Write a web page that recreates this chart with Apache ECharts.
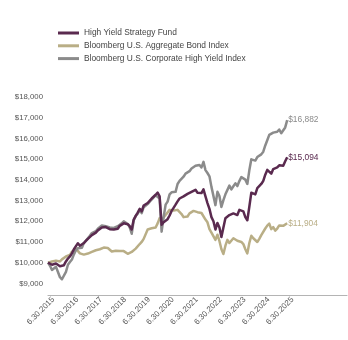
<!DOCTYPE html>
<html>
<head>
<meta charset="utf-8">
<script src="https://cdn.jsdelivr.net/npm/echarts@6/dist/echarts.min.js"></script>
<style>
  html, body { margin: 0; padding: 0; background: #fff; }
  #chart { width: 348px; height: 340px; }
</style>
</head>
<body>
<div id="chart"></div>
<script>
// Growth of a $10,000 investment, month-end values from 6/30/2015 to 6/30/2025
const seriesNames = [
  'High Yield Strategy Fund',
  'Bloomberg U.S. Aggregate Bond Index',
  'Bloomberg U.S. Corporate High Yield Index'
];

const tickLabels = [
  '6.30.2015', '6.30.2016', '6.30.2017', '6.30.2018', '6.30.2019', '6.30.2020',
  '6.30.2021', '6.30.2022', '6.30.2023', '6.30.2024', '6.30.2025'
];

const yTickValues = [9000, 10000, 11000, 12000, 13000, 14000, 15000, 16000, 17000, 18000];

const fundValues = [
  10000, 9950, 9900, 9930, 9960, 9900, 9830, 9800, 9880, 10060, 10200, 10300,
  10450, 10650, 10800, 10940, 10820, 10800, 10950, 11050, 11150, 11230, 11330, 11380,
  11450, 11560, 11620, 11700, 11760, 11720, 11740, 11620, 11560, 11600, 11580, 11640,
  11780, 11850, 11900, 11980, 11860, 11760, 11600, 12080, 12260, 12420, 12600, 12480,
  12760, 12820, 12880, 12960, 13100, 13150, 13280, 13380, 13200, 11830, 11950, 12020,
  12100, 12280, 12500, 12650, 12800, 12960, 13100, 13080, 13200, 13180, 13320, 13360,
  13420, 13480, 13520, 13380, 13460, 13360, 13540, 13200, 12880, 12600, 12200, 12000,
  11600, 11920, 11700, 11240, 11700, 12150, 12080, 12300, 12250, 12380, 12420, 12300,
  12550, 12600, 12480, 12200, 12050, 12700, 13380, 13420, 13300, 13600, 13680, 13800,
  13950, 14250, 14480, 14420, 14300, 14520, 14450, 14600, 14700, 14620, 14680, 14900,
  15094
];

const aggValues = [
  10000, 10070, 10060, 10130, 10100, 10080, 10060, 10160, 10220, 10300, 10360, 10380,
  10530, 10620, 10680, 10650, 10450, 10370, 10390, 10420, 10440, 10480, 10520, 10540,
  10600, 10580, 10650, 10720, 10730, 10700, 10710, 10650, 10540, 10560, 10580, 10550,
  10560, 10570, 10560, 10540, 10430, 10410, 10520, 10600, 10680, 10760, 10900, 11000,
  11150, 11200, 11600, 11620, 11660, 11680, 11700, 11900, 12150, 12050, 12180, 12300,
  12380, 12550, 12500, 12520, 12480, 12550, 12470, 12350, 12200, 12150, 12230, 12380,
  12470, 12500, 12420, 12440, 12420, 12400, 12350, 12080, 11950, 11620, 11450, 11400,
  11100, 11350, 11050, 10650, 10420, 10820, 11100, 10950, 11000, 11180, 11120, 11060,
  11050, 11000, 10900, 10650, 10450, 10950, 11300, 11180, 11250, 11000, 11150, 11330,
  11400, 11650, 11790, 11890, 11620, 11720, 11550, 11650, 11800, 11820, 11780, 11850,
  11904
];

const hyValues = [
  10000, 9850, 9650, 9720, 9800, 9550, 9300, 9200, 9220, 9560, 9900, 10030,
  10150, 10400, 10600, 10700, 10760, 10720, 10950, 11020, 11180, 11300, 11430, 11420,
  11520, 11640, 11680, 11800, 11780, 11760, 11810, 11700, 11650, 11680, 11740, 11760,
  11800, 11900, 12000, 12060, 11870, 11700, 11400, 12050, 12250, 12370, 12540, 12390,
  12680, 12760, 12830, 12900, 13050, 13150, 13250, 13280, 13100, 11500, 12200, 12800,
  12950, 13300, 13400, 13350, 13420, 13800, 13950, 14020, 14150, 14300, 14380, 14420,
  14550, 14580, 14680, 14590, 14720, 14600, 14870, 14470, 14330, 14170, 13660, 13690,
  12780, 13420, 13220, 12690, 13020, 13300, 13220, 13720, 13540, 13690, 13830, 13700,
  13940, 14130, 14180, 14010, 13800, 14460, 14990, 14990, 14930, 15100, 15090, 15230,
  15360, 15660, 15910, 16170, 16100, 16280, 16220, 16320, 16430, 16250, 16250, 16530,
  16882
];

const colors = ['#5a2a4f', '#b9ae86', '#8b8b8b'];
const font = "'Liberation Sans', Arial, sans-serif";

// pair each month index (0 = 6/30/2015) with its value
const toPairs = vals => vals.map((v, i) => [i, v]);
const money = v => '$' + v.toLocaleString('en-US');

const chart = echarts.init(document.getElementById('chart'), null, { renderer: 'canvas' });

const makeSeries = (name, vals, color, z) => ({
  name: name,
  type: 'line',
  data: toPairs(vals),
  showSymbol: false,
  symbol: 'none',
  z: z,
  lineStyle: { color: color, width: 2.5, join: 'round' },
  itemStyle: { color: color },
  emphasis: { disabled: true },
  endLabel: {
    show: true,
    distance: 1,
    color: color,
    fontFamily: font,
    fontSize: 8.4,
    formatter: p => money(p.value[1])
  }
});

chart.setOption({
  animation: false,
  color: colors,
  legend: {
    orient: 'vertical',
    left: 53,
    top: 24,
    itemWidth: 21,
    itemHeight: 3,
    itemGap: 4.8,
    icon: 'rect',
    data: seriesNames,
    textStyle: { color: '#444', fontFamily: font, fontSize: 8.4 }
  },
  grid: { left: 48, right: 1, top: 97, bottom: 45, containLabel: false },
  xAxis: {
    type: 'value',
    min: 0,
    max: 150,
    interval: 12,
    splitLine: { show: false },
    axisTick: { show: false },
    axisLine: { show: true, lineStyle: { color: '#b4b4b4', width: 1.2 } },
    axisLabel: {
      rotate: 45,
      margin: 3,
      color: '#555',
      fontFamily: font,
      fontSize: 8,
      verticalAlign: 'top',
      padding: [0, -3.5, 0, 0],
      showMaxLabel: false,
      formatter: v => {
        const k = Math.round(v / 12);
        return k < tickLabels.length ? tickLabels[k] : '';
      }
    }
  },
  yAxis: {
    type: 'value',
    min: 8440,
    max: 18000,
    splitLine: { show: false },
    axisTick: { show: false },
    axisLine: { show: false },
    axisLabel: {
      customValues: yTickValues,
      margin: 5,
      color: '#555',
      fontFamily: font,
      fontSize: 7.8,
      formatter: v => money(v)
    }
  },
  series: [
    makeSeries(seriesNames[1], aggValues, colors[1], 2),
    makeSeries(seriesNames[2], hyValues, colors[2], 3),
    makeSeries(seriesNames[0], fundValues, colors[0], 4)
  ]
});
</script>
</body>
</html>
